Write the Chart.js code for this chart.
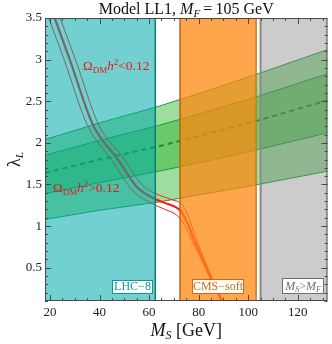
<!DOCTYPE html>
<html><head><meta charset="utf-8">
<script src="https://cdn.jsdelivr.net/npm/chart.js@4.4.1/dist/chart.umd.min.js"></script>
<style>html,body{margin:0;padding:0;background:#fff;overflow:hidden}canvas{display:block}</style>
</head><body>
<canvas id="c" width="332" height="344"></canvas>
<script>
// ---- axes ----
const xRange = [18, 132];
const yRange = [0.1, 3.5];
const xTicks = [20, 40, 60, 80, 100, 120];
const xTickLabels = ['20', '40', '60', '80', '100', '120'];
const yTicks = [0.5, 1, 1.5, 2, 2.5, 3, 3.5];
const yTickLabels = ['0.5', '1', '1.5', '2', '2.5', '3', '3.5'];

// ---- excluded regions (M_S ranges) ----
const lhc8Range = [18, 62.5];
const cmsSoftRange = [72.5, 103.2];
const msGtMfRange = [105, 132];

// ---- green band (lambda_L vs M_S) ----
const bandM          = [18,   40,   64,   85,   104,  132];
const bandCenter     = [1.64, 1.80, 1.96, 2.12, 2.27, 2.51];
const bandOuterUpper = [2.04, 2.24, 2.44, 2.64, 2.83, 3.12];
const bandInnerUpper = [1.85, 2.03, 2.21, 2.39, 2.56, 2.83];
const bandInnerLower = [1.39, 1.52, 1.66, 1.79, 1.92, 2.12];
const bandOuterLower = [1.08, 1.19, 1.29, 1.40, 1.50, 1.66];

// ---- relic density contours ----
const relicCenterM = [21.9, 28.0, 37.3, 47.4, 55.1, 62.4, 67.6, 72.4, 75.3, 77.7, 81.8, 85.4, 88.6, 89.4];
const relicCenterL = [3.5, 3.0, 2.22, 1.80, 1.47, 1.325, 1.265, 1.193, 1.05, 0.868, 0.59, 0.35, 0.15, 0.1];
const relicUpperM  = [24.1, 30.3, 39.6, 49.6, 57.0, 63.5, 68.8, 73.6, 76.4, 78.6, 82.4, 85.8, 88.9, 89.7];
const relicUpperL  = [3.5, 3.0, 2.22, 1.82, 1.50, 1.38, 1.32, 1.25, 1.07, 0.88, 0.59, 0.35, 0.15, 0.1];
const relicLowerM  = [19.5, 25.7, 35.0, 45.2, 53.3, 61.2, 66.5, 71.2, 74.4, 76.9, 81.2, 85.0, 88.3, 89.1];
const relicLowerL  = [3.5, 3.0, 2.22, 1.78, 1.43, 1.27, 1.20, 1.13, 1.01, 0.85, 0.59, 0.35, 0.15, 0.1];

const pts = (xs, ys) => xs.map((x, i) => ({x, y: ys[i]}));
const rectTop = r => [{x: r[0], y: yRange[1]}, {x: r[1], y: yRange[1]}];
const vline = x => [{x, y: yRange[0]}, {x, y: yRange[1]}];

const SERIF = '"Liberation Serif", "Times New Roman", serif';
const GREEN_FILL = 'rgba(40,180,40,0.45)';
const GREEN_LINE = '#1f9c3a';
const RED = '#ff1a1a';

const line = (data, extra) => Object.assign({
  data, showLine: true, pointRadius: 0, borderWidth: 1, fill: false, tension: 0
}, extra);

const datasets = [
  line(pts(bandM, bandOuterUpper), {order: 20, borderColor: GREEN_LINE, fill: 1, backgroundColor: GREEN_FILL}),
  line(pts(bandM, bandOuterLower), {order: 19, borderColor: GREEN_LINE}),
  line(pts(bandM, bandInnerUpper), {order: 18, borderColor: GREEN_LINE, fill: 3, backgroundColor: GREEN_FILL}),
  line(pts(bandM, bandInnerLower), {order: 17, borderColor: GREEN_LINE}),
  line(pts(bandM, bandCenter), {order: 16, borderColor: '#1a961a', borderWidth: 2, borderDash: [5, 4]}),
  line(pts(relicLowerM, relicLowerL), {order: 10, borderColor: RED, borderWidth: 1, cubicInterpolationMode: 'monotone'}),
  line(pts(relicCenterM, relicCenterL), {order: 10, borderColor: RED, borderWidth: 2.2, cubicInterpolationMode: 'monotone'}),
  line(pts(relicUpperM, relicUpperL), {order: 10, borderColor: RED, borderWidth: 1, cubicInterpolationMode: 'monotone'}),
  line(rectTop(lhc8Range), {order: 5, borderWidth: 0, fill: 'start', backgroundColor: 'rgba(0,170,170,0.55)'}),
  line(rectTop(cmsSoftRange), {order: 5, borderWidth: 0, fill: 'start', backgroundColor: 'rgba(255,136,16,0.75)'}),
  line(rectTop(msGtMfRange), {order: 5, borderWidth: 0, fill: 'start', backgroundColor: 'rgba(128,128,128,0.4)'}),
  line(vline(lhc8Range[1]), {order: 2, borderColor: '#078080', borderWidth: 1.5}),
  line(vline(cmsSoftRange[0]), {order: 2, borderColor: '#c06010', borderWidth: 1.5}),
  line(vline(cmsSoftRange[1]), {order: 2, borderColor: '#c87a30', borderWidth: 1.5}),
  line(vline(msGtMfRange[0]), {order: 2, borderColor: '#8a8a8a', borderWidth: 2})
];

function rich(ctx, parts, x, y, align, color) {
  let w = 0;
  parts.forEach(p => { ctx.font = p.f; p.w = ctx.measureText(p.t).width; w += p.w; });
  let cx = align === 'center' ? x - w / 2 : (align === 'right' ? x - w : x);
  ctx.fillStyle = color;
  ctx.textBaseline = 'alphabetic';
  ctx.textAlign = 'left';
  parts.forEach(p => { ctx.font = p.f; ctx.fillText(p.t, cx, y + (p.dy || 0)); cx += p.w; });
}
const F = (s, it) => (it ? 'italic ' : '') + s + 'px ' + SERIF;

function boxLabel(ctx, parts, x0, y0, x1, y1, color) {
  ctx.fillStyle = '#fff';
  ctx.fillRect(x0, y0, x1 - x0, y1 - y0);
  ctx.strokeStyle = color; ctx.lineWidth = 1;
  ctx.strokeRect(x0 + 0.5, y0 + 0.5, x1 - x0 - 1, y1 - y0 - 1);
  rich(ctx, parts, (x0 + x1) / 2, y1 - 4, 'center', color);
}

const decor = {
  id: 'decor',
  afterDraw(chart) {
    const ctx = chart.ctx, a = chart.chartArea, xs = chart.scales.x, ys = chart.scales.y;
    ctx.save();
    // frame
    ctx.strokeStyle = '#4a4a4a'; ctx.lineWidth = 1;
    ctx.strokeRect(a.left + 0.5, a.top + 0.5, a.right - a.left - 1, a.bottom - a.top - 1);
    // ticks (inward, all sides)
    ctx.beginPath();
    for (let v = 20; v <= 130; v += 5) {
      const px = Math.round(xs.getPixelForValue(v)) + 0.5;
      const L = v % 20 === 0 ? 6 : 3;
      ctx.moveTo(px, a.bottom); ctx.lineTo(px, a.bottom - L);
      ctx.moveTo(px, a.top); ctx.lineTo(px, a.top + L);
    }
    for (let k = 1; k <= 35; k++) {
      const v = k / 10;
      const py = Math.round(ys.getPixelForValue(v)) + 0.5;
      const L = k % 5 === 0 ? 6 : 3;
      ctx.moveTo(a.left, py); ctx.lineTo(a.left + L, py);
      ctx.moveTo(a.right, py); ctx.lineTo(a.right - L, py);
    }
    ctx.stroke();

    // region labels
    boxLabel(ctx, [{t: 'LHC\u22128', f: F(12)}], 112, 280, 153, 294, '#0a9a9a');
    boxLabel(ctx, [{t: 'CMS\u2212soft', f: F(12)}], 192, 279, 244, 294, '#d06a10');
    boxLabel(ctx, [{t: 'M', f: F(12, true)}, {t: 'S', f: F(8, true), dy: 2}, {t: '>', f: F(12)},
                   {t: 'M', f: F(12, true)}, {t: 'F', f: F(8, true), dy: 2}], 282, 278, 324, 294, '#707070');

    // relic labels
    const relic = sym => [{t: '\u03A9', f: F(13)}, {t: 'DM', f: F(9), dy: 3}, {t: 'h', f: F(13, true)},
                          {t: '2', f: F(9), dy: -5}, {t: sym + '0.12', f: F(13.5)}];
    rich(ctx, relic('<'), 83, 70, 'left', '#ee1515');
    rich(ctx, relic('>'), 53, 192, 'left', '#ee1515');

    // title
    rich(ctx, [{t: 'Model LL1, ', f: F(16)}, {t: 'M', f: F(16, true)}, {t: 'F', f: F(11, true), dy: 3},
               {t: '\u2009=\u2009105 GeV', f: F(16)}], (a.left + a.right) / 2, 14, 'center', '#111');
    // x title
    rich(ctx, [{t: 'M', f: F(18, true)}, {t: 'S', f: F(12, true), dy: 3}, {t: ' [GeV]', f: F(18)}],
         (a.left + a.right) / 2, 336, 'center', '#111');
    // y title
    ctx.save();
    ctx.translate(20, (a.top + a.bottom) / 2);
    ctx.rotate(-Math.PI / 2);
    rich(ctx, [{t: '\u03BB', f: F(18)}, {t: 'L', f: F(11, true), dy: 3}], 0, 0, 'center', '#111');
    ctx.restore();
    ctx.restore();
  }
};

new Chart(document.getElementById('c'), {
  type: 'scatter',
  data: {datasets},
  options: {
    responsive: false, animation: false, events: [],
    layout: {padding: {top: 18, right: 4.5, left: 0, bottom: 0}},
    plugins: {legend: {display: false}, tooltip: {enabled: false}, title: {display: false}},
    scales: {
      x: {
        type: 'linear', min: xRange[0], max: xRange[1],
        afterBuildTicks: s => { s.ticks = xTicks.map(v => ({value: v})); },
        afterFit: s => { s.height = 43; },
        grid: {display: false, drawTicks: false}, border: {display: false},
        ticks: {font: {family: SERIF, size: 13}, color: '#222', padding: 4, maxRotation: 0, autoSkip: false,
                callback: (v, i) => xTickLabels[i]}
      },
      y: {
        type: 'linear', min: yRange[0], max: yRange[1],
        afterBuildTicks: s => { s.ticks = yTicks.map(v => ({value: v})); },
        afterFit: s => { s.width = 45; },
        grid: {display: false, drawTicks: false}, border: {display: false},
        ticks: {font: {family: SERIF, size: 13}, color: '#222', padding: 3, autoSkip: false,
                callback: (v, i) => yTickLabels[i]}
      }
    }
  },
  plugins: [decor]
});
</script>
</body></html>
